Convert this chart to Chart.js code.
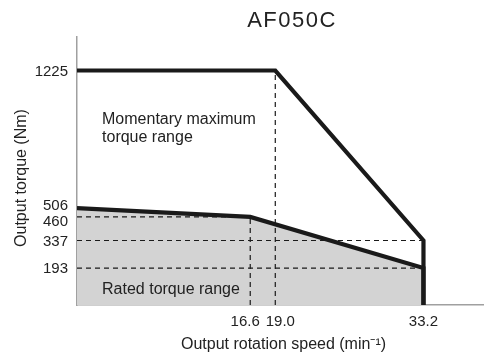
<!DOCTYPE html>
<html>
<head>
<meta charset="utf-8">
<script src="https://cdn.jsdelivr.net/npm/chart.js@4/dist/chart.umd.min.js"></script>
<style>
  html, body { margin: 0; padding: 0; background: #fff; }
  #wrap { width: 484px; height: 358px; position: relative; }
</style>
</head>
<body>
<div id="wrap"><canvas id="c" width="484" height="358"></canvas></div>
<script>
// ---- data ----
const chartTitle = 'AF050C';
const ratedSpeed = [0, 16.6, 33.2, 33.2];
const ratedTorque = [506, 460, 193, 0];
const maxSpeed = [0, 19.0, 33.2, 33.2];
const maxTorque = [1225, 1225, 337, 0];
const xTickValues = [16.6, 19.0, 33.2];
const yTickValues = [193, 337, 460, 506, 1225];
// dashed guide lines: [x0, y0, x1, y1]
const guideH = [[0, 460, 16.6, 460], [0, 337, 33.2, 337], [0, 193, 33.2, 193]];
const guideV = [[16.6, 0, 16.6, 460], [19.0, 0, 19.0, 1225]];
const regionLabels = [
  { text: ['Momentary maximum', 'torque range'], x: 2.4, y: 967 },
  { text: ['Rated torque range'], x: 2.4, y: 78 }
];
const xAxisTitle = 'Output rotation speed (min\u207B\u00B9)';
const yAxisTitle = 'Output torque (Nm)';

const FONT = "'Liberation Sans', Arial, Helvetica, sans-serif";
const ink = '#1a1a1a';
const textColor = '#222';

function pts(xs, ys) { return xs.map((x, i) => ({ x: x, y: ys[i] })); }

// push apart label centres that are closer than their minimum separation
function spread(items) {
  items.sort((a, b) => a.p - b.p);
  for (let it = 0; it < 20; it++) {
    let moved = false;
    for (let i = 0; i + 1 < items.length; i++) {
      const a = items[i], b = items[i + 1];
      const need = (a.size + b.size) / 2 + a.gap;
      const d = b.p - a.p;
      if (d < need - 0.01) {
        const shift = (need - d) / 2;
        a.p -= shift; b.p += shift; moved = true;
      }
    }
    if (!moved) break;
  }
  return items;
}

const datasets = [];
datasets.push({
  data: pts(ratedSpeed, ratedTorque), fill: 'origin', backgroundColor: '#d3d3d3',
  borderWidth: 0, borderColor: 'rgba(0,0,0,0)', pointRadius: 0, order: 5
});
guideH.concat(guideV).forEach(g => {
  datasets.push({
    data: [{ x: g[0], y: g[1] }, { x: g[2], y: g[3] }], borderColor: ink, borderWidth: 1.2,
    borderDash: [5, 4], fill: false, pointRadius: 0, order: 3
  });
});
datasets.push({
  data: pts(ratedSpeed, ratedTorque), borderColor: ink, borderWidth: 4.2, fill: false,
  pointRadius: 0, order: 2, borderJoinStyle: 'miter', borderCapStyle: 'butt'
});
datasets.push({
  data: pts(maxSpeed, maxTorque), borderColor: ink, borderWidth: 4.2, fill: false,
  pointRadius: 0, order: 1, borderJoinStyle: 'miter', borderCapStyle: 'butt'
});

const textPlugin = {
  id: 'textPlugin',
  afterDraw(chart) {
    const ctx = chart.ctx, xs = chart.scales.x, ys = chart.scales.y, area = chart.chartArea;
    ctx.save();
    ctx.fillStyle = textColor;
    // title
    ctx.font = '22px ' + FONT;
    ctx.textAlign = 'center';
    ctx.textBaseline = 'middle';
    if ('letterSpacing' in ctx) ctx.letterSpacing = '1.5px';
    ctx.fillText(chartTitle, 292, 21);
    if ('letterSpacing' in ctx) ctx.letterSpacing = '0px';

    // y tick labels
    ctx.font = '15px ' + FONT;
    ctx.textAlign = 'right';
    const yItems = spread(yTickValues.map(v => ({ v: v, p: ys.getPixelForValue(v), size: 11, gap: 4.5 })));
    yItems.forEach(it => ctx.fillText(String(it.v), area.left - 9, it.p + 1.2));

    // x tick labels
    ctx.textAlign = 'center';
    const xItems = spread(xTickValues.map(v => {
      const t = v.toFixed(1);
      return { t: t, p: xs.getPixelForValue(v), size: ctx.measureText(t).width, gap: 6 };
    }));
    xItems.forEach(it => ctx.fillText(it.t, it.p, area.bottom + 16.5));

    // axis titles
    ctx.font = '16px ' + FONT;
    ctx.fillText(xAxisTitle, (area.left + area.right) / 2 + 3, area.bottom + 40);
    ctx.save();
    ctx.translate(22, (area.top + area.bottom) / 2 + 7);
    ctx.rotate(-Math.PI / 2);
    ctx.fillText(yAxisTitle, 0, 0);
    ctx.restore();

    // region labels
    ctx.textAlign = 'left';
    regionLabels.forEach(l => {
      const px = xs.getPixelForValue(l.x), py = ys.getPixelForValue(l.y);
      l.text.forEach((t, i) => ctx.fillText(t, px, py + i * 18));
    });
    ctx.restore();
  }
};

new Chart(document.getElementById('c'), {
  type: 'line',
  data: { datasets: datasets },
  options: {
    responsive: false, animation: false, devicePixelRatio: 1,
    layout: { padding: { top: 37, right: 0, left: 0, bottom: 0 } },
    plugins: { legend: { display: false }, tooltip: { enabled: false }, title: { display: false } },
    elements: { line: { tension: 0 } },
    scales: {
      x: {
        type: 'linear', min: 0, max: 39,
        grid: { display: false, drawTicks: false },
        border: { display: true, color: '#a0a0a0', width: 1.5 },
        afterBuildTicks: s => { s.ticks = xTickValues.map(v => ({ value: v })); },
        afterFit: s => { s.height = 53; },
        ticks: { display: false },
        title: { display: false }
      },
      y: {
        type: 'linear', min: 0, max: 1400,
        grid: { display: false, drawTicks: false },
        border: { display: true, color: '#a0a0a0', width: 1.5 },
        afterBuildTicks: s => { s.ticks = yTickValues.map(v => ({ value: v })); },
        afterFit: s => { s.width = 77; },
        ticks: { display: false },
        title: { display: false }
      }
    }
  },
  plugins: [textPlugin]
});
</script>
</body>
</html>
